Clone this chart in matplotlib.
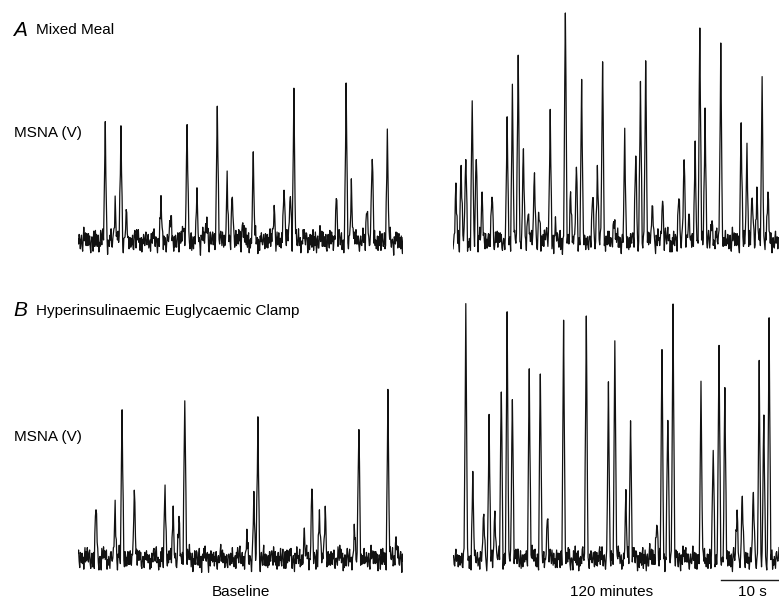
import numpy as np
import matplotlib
matplotlib.use("Agg")
import matplotlib.pyplot as plt

plt.rcParams['font.family'] = ['Liberation Sans', 'DejaVu Sans']

# Figure size in pixels
W, H = 784, 607

# Spike times (s) and burst amplitudes (arbitrary units)
a_base_t = [4.7, 6.4, 7.4, 8.3, 14.3, 16.0, 18.1, 18.8, 20.5, 22.2, 24.0, 25.7, 26.6,
            28.4, 30.2, 33.8, 35.5, 36.6, 37.2, 44.5, 46.2, 47.1, 49.8, 50.7, 53.3]
a_base_h = [108, 40, 107, 28, 38, 22, 18, 113, 45, 23, 133, 61, 50,
            22, 77, 33, 61, 49, 147, 43, 149, 58, 38, 87, 103]

a_120_t = [0.5, 1.4, 2.2, 3.3, 4.0, 5.0, 6.7, 9.3, 10.2, 11.2, 12.1, 12.9, 14.0, 14.8,
           15.9, 16.7, 17.6, 19.3, 20.2, 21.2, 22.1, 24.0, 24.8, 25.7, 27.6, 29.5,
           31.4, 32.2, 33.1, 34.3, 36.0, 38.8, 39.7, 40.5, 41.6, 42.4, 43.3, 44.5,
           46.0, 49.5, 50.5, 51.4, 52.2, 53.1, 54.1]
a_120_h = [53, 81, 82, 140, 94, 40, 50, 116, 151, 188, 92, 33, 68, 26,
           13, 117, 16, 227, 53, 76, 147, 48, 69, 179, 20, 99,
           88, 157, 180, 37, 46, 50, 81, 29, 91, 208, 132, 20,
           193, 118, 92, 42, 53, 157, 44]

b_base_t = [3.1, 6.4, 7.6, 9.7, 15.0, 16.4, 17.4, 18.4, 29.1, 30.3, 31.0,
            39.0, 40.3, 41.6, 42.6, 47.6, 48.4, 53.4, 54.8]
b_base_h = [57, 53, 145, 71, 73, 44, 40, 170, 20, 53, 138,
            18, 73, 49, 47, 25, 138, 159, 22]

b_120_t = [2.2, 3.4, 5.3, 6.2, 7.2, 8.3, 9.3, 10.2, 13.1, 15.0, 16.2, 19.0, 22.9,
           26.7, 27.8, 29.7, 30.5, 35.0, 35.9, 36.9, 37.8, 42.6, 44.7, 45.7, 46.7,
           48.8, 49.7, 51.6, 52.6, 53.4, 54.3]
b_120_h = [244, 81, 43, 134, 51, 174, 239, 168, 194, 188, 42, 233, 242,
           169, 214, 58, 150, 44, 210, 144, 254, 168, 114, 203, 172,
           44, 65, 64, 192, 147, 229]

# Hand-read background noise (arbitrary units), two short loops
noise_a = [3, -6, 8, -2, -11, 5, 9, -4, -8, 2, 12, -7, -1, 6, -12, 4, 1, -9, 7, -3,
           10, -5, -10, 3, 6, -2, -13, 8, 0, -6, 11, -4, 5, -8, 2, 9, -11]
noise_b = [-2, 4, -5, 1, 6, -3, -1, 5, -6, 2, 3, -4, 0, 5, -2, -5, 4, 1, -3, 6,
           -1, -4, 2, 3, -6, 1, 4, -2, -3]

DUR = 56.0
DT = 0.1
HALF_W = 0.3


def build_trace(times, heights, shift):
    t = np.round(np.arange(0, DUR + DT / 2, DT), 2)
    y = np.zeros_like(t)
    for ts, hs in zip(times, heights):
        bump = hs * np.clip(1 - np.abs(t - ts) / HALF_W, 0, None)
        y = np.maximum(y, bump)
    n = np.array([noise_a[(i + shift) % len(noise_a)] + noise_b[(i * 3 + shift) % len(noise_b)]
                  for i in range(len(t))], dtype=float)
    return t, y + 0.8 * n


def px_axes(fig, x0, x1, y0, y1):
    return fig.add_axes([x0 / W, 1 - y1 / H, (x1 - x0) / W, (y1 - y0) / H])


fig = plt.figure(figsize=(W / 100, H / 100), dpi=100)

panels = [
    (78, 403, 5, 270, (-30, 235), a_base_t, a_base_h, 0),
    (453, 779, 5, 270, (-30, 235), a_120_t, a_120_h, 11),
    (78, 403, 295, 585, (-27, 263), b_base_t, b_base_h, 23),
    (453, 779, 295, 585, (-27, 263), b_120_t, b_120_h, 5),
]

for x0, x1, y0, y1, ylim, times, heights, shift in panels:
    ax = px_axes(fig, x0, x1, y0, y1)
    t, y = build_trace(times, heights, shift)
    ax.plot(t, y, color='#111111', linewidth=0.9)
    ax.set_xlim(0, DUR)
    ax.set_ylim(*ylim)
    ax.axis('off')


def ftext(x, y, s, **kw):
    fig.text(x / W, 1 - y / H, s, va='center', **kw)


ftext(13, 30, 'A', fontsize=15, style='italic')
ftext(36, 30, 'Mixed Meal', fontsize=11)
ftext(14, 133, 'MSNA (V)', fontsize=11)
ftext(13, 311, 'B', fontsize=15, style='italic')
ftext(36, 311, 'Hyperinsulinaemic Euglycaemic Clamp', fontsize=11)
ftext(14, 437, 'MSNA (V)', fontsize=11)
ftext(241, 592, 'Baseline', fontsize=11, ha='center')
ftext(612, 592, '120 minutes', fontsize=11, ha='center')
ftext(752, 592, '10 s', fontsize=11, ha='center')

# 10 s scale bar under the right-hand traces
sb = px_axes(fig, 453, 779, 570, 590)
sb.plot([DUR - 10.0, DUR], [0, 0], color='#1a1a1a', linewidth=1.0)
sb.set_xlim(0, DUR)
sb.set_ylim(-1, 1)
sb.axis('off')

fig.savefig('out.png', dpi=100)
